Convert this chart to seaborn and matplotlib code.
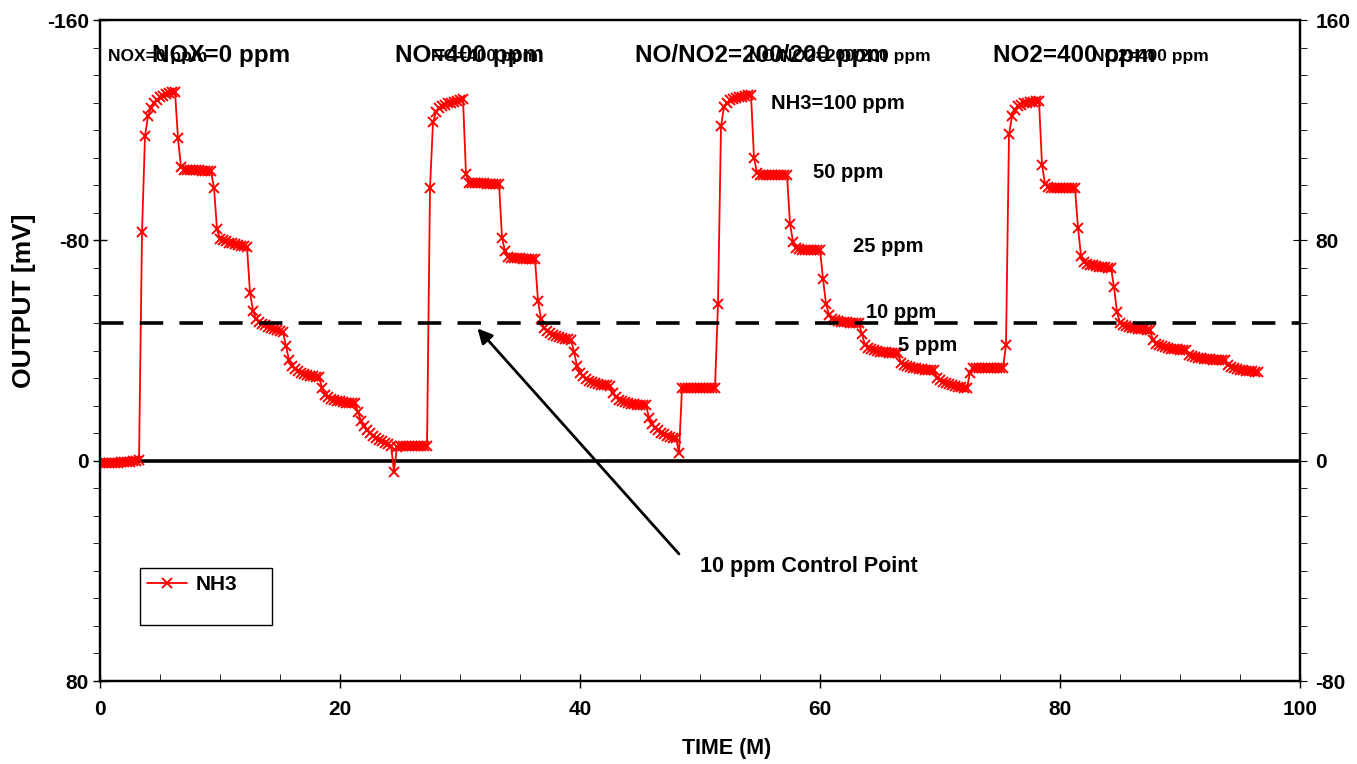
import matplotlib
matplotlib.use("Agg")
import matplotlib.pyplot as plt
from matplotlib.lines import Line2D
from matplotlib.ticker import MultipleLocator
import numpy as np
import pandas as pd
import seaborn as sns

# NH3 sensor output [mV], sampled every 0.25 min (one row = 3 min)
sample_step = 0.25
nh3_mv = [
    1.0, 1.0, 0.9, 0.9, 0.8, 0.7, 0.7, 0.6, 0.5, 0.4, 0.3, 0.2,  # 0
    0.1, -0.2, -83.0, -118.0, -125.0, -128.0, -130.0, -131.0, -132.0, -132.5, -133.0, -133.4,  # 3
    -133.7, -134.0, -117.0, -106.5, -105.6, -105.5, -105.5, -105.4, -105.4, -105.4, -105.3, -105.3,  # 6
    -105.2, -105.2, -99.0, -84.0, -80.5, -80.0, -79.6, -79.2, -78.9, -78.6, -78.3, -78.1,  # 9
    -77.8, -77.5, -61.0, -54.5, -51.5, -50.5, -49.8, -49.2, -48.7, -48.2, -47.8, -47.4,  # 12
    -47.1, -46.8, -41.5, -36.5, -34.5, -33.3, -32.5, -31.9, -31.4, -31.0, -30.8, -30.6,  # 15
    -30.5, -30.4, -26.5, -24.0, -23.0, -22.5, -22.1, -21.8, -21.5, -21.3, -21.1, -21.0,  # 18
    -20.9, -20.8, -17.5, -14.5, -12.5, -11.0, -10.0, -9.0, -8.2, -7.5, -7.0, -6.5,  # 21
    -6.0, -5.5, 4.0, -5.0, -5.2, -5.3, -5.3, -5.4, -5.4, -5.4, -5.5, -5.5,  # 24
    -5.5, -5.5, -99.0, -123.0, -126.5, -128.0, -128.8, -129.3, -129.7, -130.0, -130.3, -130.6,  # 27
    -130.9, -131.2, -104.0, -101.0, -100.8, -100.7, -100.7, -100.7, -100.7, -100.6, -100.6, -100.6,  # 30
    -100.6, -100.6, -81.0, -76.0, -74.0, -73.7, -73.6, -73.5, -73.5, -73.4, -73.4, -73.3,  # 33
    -73.3, -73.2, -58.0, -51.5, -48.0, -47.0, -46.3, -45.7, -45.2, -44.8, -44.5, -44.3,  # 36
    -44.1, -43.9, -39.5, -34.5, -32.0, -30.6, -29.7, -29.0, -28.5, -28.1, -27.8, -27.6,  # 39
    -27.5, -27.4, -27.3, -24.5, -23.0, -22.2, -21.6, -21.2, -20.9, -20.7, -20.5, -20.4,  # 42
    -20.3, -20.2, -20.2, -15.5, -13.5, -12.0, -11.0, -10.2, -9.6, -9.1, -8.7, -8.4,  # 45
    -8.1, -2.8, -26.3, -26.4, -26.4, -26.4, -26.5, -26.5, -26.5, -26.5, -26.5, -26.5,  # 48
    -26.5, -26.5, -57.0, -121.5, -128.5, -130.0, -130.8, -131.3, -131.7, -132.0, -132.2, -132.4,  # 51
    -132.6, -132.8, -110.0, -104.5, -103.9, -103.8, -103.8, -103.7, -103.7, -103.7, -103.7, -103.7,  # 54
    -103.7, -103.7, -86.0, -79.5, -77.2, -76.8, -76.6, -76.5, -76.5, -76.5, -76.4, -76.4,  # 57
    -76.4, -66.0, -57.0, -53.0, -51.5, -51.0, -50.7, -50.5, -50.3, -50.2, -50.1, -50.0,  # 60
    -50.0, -49.9, -46.0, -42.0, -41.0, -40.5, -40.1, -39.8, -39.6, -39.4, -39.3, -39.2,  # 63
    -39.1, -39.0, -39.0, -35.5, -34.8, -34.4, -34.0, -33.7, -33.5, -33.3, -33.2, -33.1,  # 66
    -33.0, -33.0, -32.9, -30.0, -29.3, -28.7, -28.2, -27.8, -27.4, -27.1, -26.8, -26.6,  # 69
    -26.4, -26.3, -32.0, -33.5, -33.5, -33.6, -33.6, -33.6, -33.6, -33.7, -33.7, -33.7,  # 72
    -33.7, -33.7, -42.0, -118.5, -125.0, -127.5, -128.7, -129.3, -129.7, -130.0, -130.2, -130.4,  # 75
    -130.5, -130.6, -107.5, -100.5, -99.2, -99.0, -98.9, -98.9, -98.9, -98.9, -98.9, -98.9,  # 78
    -98.9, -98.9, -84.5, -74.5, -72.0, -71.5, -71.2, -70.9, -70.7, -70.5, -70.3, -70.2,  # 81
    -70.1, -70.0, -63.0, -54.0, -50.0, -49.3, -48.9, -48.6, -48.3, -48.1, -47.9, -47.8,  # 84
    -47.7, -47.6, -47.5, -43.8, -42.5, -41.9, -41.5, -41.1, -40.9, -40.7, -40.5, -40.4,  # 87
    -40.3, -40.2, -40.2, -38.4, -37.9, -37.6, -37.4, -37.2, -37.0, -36.9, -36.8, -36.7,  # 90
    -36.7, -36.6, -36.6, -36.6, -34.7, -34.0, -33.6, -33.3, -33.0, -32.8, -32.6, -32.5,  # 93
    -32.4, -32.3, -32.3,  # 96
]

baseline_mv = 0
control_point_mv = -50

left_ticks = [-160, -80, 0, 80]
right_ticks = [-80, 0, 80, 160]
x_ticks = [0, 20, 40, 60, 80, 100]

gas_labels_big = ["NOX=0 ppm", "NO=400 ppm", "NO/NO2=200/200 ppm", "NO2=400 ppm"]
gas_labels_small = ["NOX=0 ppm", "NO=400 ppm", "NO/NO2=200/200 ppm", "NO2=400 ppm"]
step_labels = ["NH3=100 ppm", "50 ppm", "25 ppm", "10 ppm", "5 ppm"]

df = pd.DataFrame({"time": np.arange(len(nh3_mv)) * sample_step, "output": nh3_mv})

sns.set_style("ticks")
plt.rcParams["font.family"] = ["Liberation Sans", "DejaVu Sans"]
plt.rcParams["font.weight"] = "bold"
plt.rcParams["axes.labelweight"] = "bold"
plt.rcParams["axes.unicode_minus"] = False
for key in ["text.color", "axes.labelcolor", "xtick.color", "ytick.color", "axes.edgecolor"]:
    plt.rcParams[key] = "black"

fig = plt.figure(figsize=(13.57, 7.64), dpi=100)
ax = fig.add_axes([0.0737, 0.1086, 0.8843, 0.8652])

ax.axhline(baseline_mv, color="black", lw=2.6, zorder=2)
sns.lineplot(
    data=df, x="time", y="output", ax=ax, color="#ff0000", marker="x",
    markersize=7, markeredgewidth=1.4, markeredgecolor="#ff0000",
    linewidth=1.3, estimator=None, sort=False, label="NH3", zorder=3,
)
ax.axhline(control_point_mv, color="black", lw=2.6, linestyle=(0, (6.5, 4.5)), zorder=4)

ax.set_xlim(0, 100)
ax.set_ylim(80, -160)
ax.set_xticks(x_ticks)
ax.set_yticks(left_ticks)
ax.xaxis.set_minor_locator(MultipleLocator(5))
ax.yaxis.set_minor_locator(MultipleLocator(10))
ax.tick_params(axis="both", which="major", labelsize=15, direction="inout", length=10, width=1)
ax.tick_params(axis="x", which="major", pad=9)
ax.tick_params(axis="y", which="major", pad=3)
ax.tick_params(axis="x", which="minor", direction="in", length=5)
ax.tick_params(axis="y", which="minor", direction="out", length=5)
for s in ax.spines.values():
    s.set_linewidth(1.6)

ax.set_xlabel("TIME (M)", fontsize=15.5)
ax.set_ylabel("OUTPUT [mV]", fontsize=19)
ax.xaxis.set_label_coords(0.522, -0.086)
ax.yaxis.set_label_coords(-0.053, 0.576)

ax2 = ax.twinx()
ax2.set_ylim(-80, 160)
ax2.set_yticks(right_ticks)
ax2.yaxis.set_minor_locator(MultipleLocator(10))
ax2.tick_params(axis="y", which="major", labelsize=15, direction="inout", length=10, pad=6)
ax2.tick_params(axis="y", which="minor", direction="out", length=5)
for s in ax2.spines.values():
    s.set_linewidth(1.6)

# gas mixture labels (big and overlapping small copies, as in the original)
big_x = [0.0433, 0.2458, 0.4458, 0.744]
for lab, fx in zip(gas_labels_big, big_x):
    ax.text(fx, 0.947, lab, transform=ax.transAxes, fontsize=17.5, ha="left", va="center")
small_pos = [(0.0067, "left"), (0.365, "right"), (0.6925, "right"), (0.924, "right")]
for lab, (fx, ha) in zip(gas_labels_small, small_pos):
    ax.text(fx, 0.945, lab, transform=ax.transAxes, fontsize=12.5, ha=ha, va="center")

step_pos = [(0.559, 0.874), (0.594, 0.770), (0.6275, 0.657), (0.638, 0.558), (0.665, 0.507)]
for lab, (fx, fy) in zip(step_labels, step_pos):
    ax.text(fx, fy, lab, transform=ax.transAxes, fontsize=14.5, ha="left", va="center")

ax.annotate(
    "", xy=(31.3, control_point_mv + 1.2), xytext=(48.4, 34.6),
    arrowprops=dict(arrowstyle="-|>", color="black", lw=2, mutation_scale=22),
)
ax.text(0.5, 0.174, "10 ppm Control Point", transform=ax.transAxes, fontsize=15.5, ha="left", va="center")

line_handle = ax.get_lines()[1]
blank = Line2D([], [], alpha=0)
leg = ax.legend(
    [line_handle, blank], ["NH3", " "], loc="upper left",
    bbox_to_anchor=(0.0333, 0.085, 0.11, 0.086), mode="expand", borderaxespad=0,
    fontsize=15, frameon=True, fancybox=False, framealpha=1, edgecolor="black",
    handlelength=1.9, handletextpad=0.4, borderpad=0.35, labelspacing=0.2,
)
leg.get_frame().set_linewidth(1.0)

fig.savefig("out.png", dpi=100)
plt.close(fig)
